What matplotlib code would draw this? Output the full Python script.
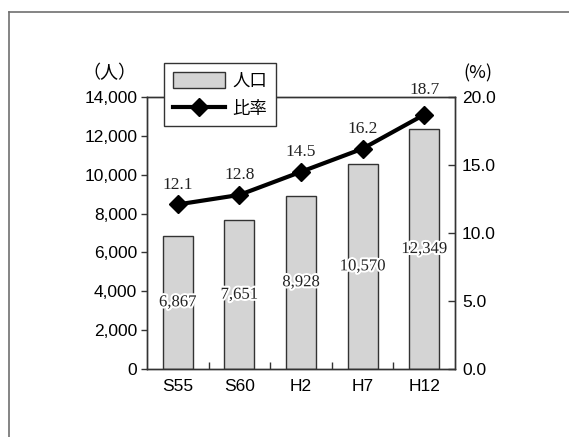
import matplotlib
matplotlib.use("Agg")
import matplotlib.pyplot as plt
import matplotlib.patheffects as pe
from matplotlib.lines import Line2D
import numpy as np

categories = ["S55", "S60", "H2", "H7", "H12"]
population = [6867, 7651, 8928, 10570, 12349]
ratio = [12.1, 12.8, 14.5, 16.2, 18.7]
left_ticks = [0, 2000, 4000, 6000, 8000, 10000, 12000, 14000]
right_ticks = [0.0, 5.0, 10.0, 15.0, 20.0]

plt.rcParams['font.family'] = ['Liberation Sans', 'Noto Sans CJK JP', 'DejaVu Sans']

W, H = 569, 437
fig = plt.figure(figsize=(W / 100, H / 100), dpi=100)

# outer frame (top and left lines)
fig.add_artist(Line2D([9 / W, 1.0], [1 - 12 / H, 1 - 12 / H], color="#707070", lw=1.2))
fig.add_artist(Line2D([9 / W, 9 / W], [1 - 12 / H, 0.0], color="#707070", lw=1.2))

ax = fig.add_axes([147 / W, 1 - 369 / H, (455 - 147) / W, (369 - 97) / H])
ax2 = ax.twinx()

x = np.arange(len(categories))
ax.bar(x, population, width=0.49, color="#d4d4d4", edgecolor="#333333", linewidth=1.0, zorder=2)
ax.set_xlim(-0.5, len(categories) - 0.5)
ax.set_ylim(0, 14000)
ax.set_yticks(left_ticks)
ax.set_yticklabels([f"{v:,}" for v in left_ticks], fontsize=12.5)
ax.tick_params(axis='y', direction='out', length=4, width=1, color="#333333", pad=3)
ax.set_xticks(x)
ax.set_xticklabels(categories, fontsize=12.5)
ax.tick_params(axis='x', length=0, pad=7)
# minor ticks between categories, pointing inward
ax.set_xticks(np.arange(0.5, len(categories) - 0.5, 1.0), minor=True)
ax.tick_params(axis='x', which='minor', direction='in', length=5, width=1, color="#333333")

for a in (ax, ax2):
    for sp in a.spines.values():
        sp.set_color("#333333")
        sp.set_linewidth(1.0)

halo = [pe.withStroke(linewidth=3, foreground="white")]
for xi, v in zip(x, population):
    ax.text(xi, v / 2, f"{v:,}", ha="center", va="center", fontsize=12,
            family="Liberation Serif", color="#222222", path_effects=halo, zorder=4)

ax2.plot(x, ratio, color="black", lw=3.0, marker="D", markersize=9, zorder=5)
ax2.set_ylim(0, 20)
ax2.set_yticks(right_ticks)
ax2.set_yticklabels([f"{v:.1f}" for v in right_ticks], fontsize=12.5)
ax2.tick_params(axis='y', direction='in', length=5, width=1, color="#333333", pad=5)
for i, (xi, v) in enumerate(zip(x, ratio)):
    dy = 18 if i == len(ratio) - 1 else 14  # last label sits above the top spine
    ax2.annotate(f"{v:.1f}", (xi, v), xytext=(0, dy), textcoords="offset points",
                 ha="center", va="center", fontsize=12.5, family="Liberation Serif",
                 color="#222222", annotation_clip=False)

ax.set_zorder(1)
ax2.set_zorder(2)
ax.patch.set_visible(False)

# unit labels
fig.text(109 / W, 1 - 73 / H, "（人）", ha="center", va="center", fontsize=13,
         family=["Noto Sans CJK JP", "DejaVu Sans"])
fig.text(478 / W, 1 - 73 / H, "(%)", ha="center", va="center", fontsize=13,
         family=["Noto Sans CJK JP", "DejaVu Sans"])

# legend
handles = [
    plt.Rectangle((0, 0), 1, 1, facecolor="#d4d4d4", edgecolor="#333333", lw=1.0),
    Line2D([], [], color="black", lw=3.0, marker="D", markersize=9),
]
leg = fig.legend(handles, ["人口", "比率"], loc="upper left",
                 bbox_to_anchor=(164 / W, 1 - 63 / H), frameon=True, fancybox=False,
                 edgecolor="#333333", framealpha=1,
                 prop={"family": ["Noto Sans CJK JP", "DejaVu Sans"], "size": 12.5},
                 handlelength=3.0, handleheight=1.1, borderpad=0.5, labelspacing=0.55,
                 handletextpad=0.45, borderaxespad=0)
leg.get_frame().set_linewidth(1.0)
leg.set_zorder(10)

fig.savefig("out.png", dpi=100)
